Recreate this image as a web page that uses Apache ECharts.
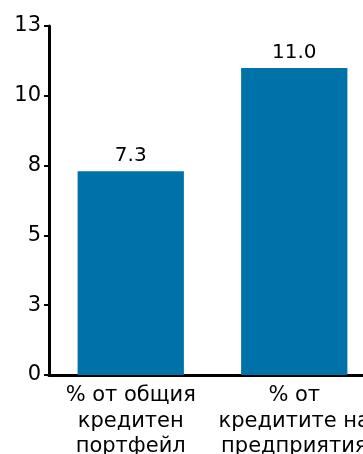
<!DOCTYPE html>
<html><head><meta charset="utf-8">
<script src="https://cdn.jsdelivr.net/npm/echarts@6/dist/echarts.min.js"></script>
<style>html,body{margin:0;padding:0;background:#fff}#c{width:363px;height:454px}</style>
</head><body><div id="c"></div>
<script>
var categories = ['% от общия\nкредитен\nпортфейл', '% от\nкредитите на\nпредприятия'];
var values = [7.3, 11.0];
var chart = echarts.init(document.getElementById('c'), null, {renderer: 'canvas'});
chart.setOption({
  animation: false,
  grid: {left: 49, top: 26, right: -13, bottom: 79, containLabel: false, outerBoundsMode: 'none'},
  xAxis: {
    type: 'category', data: categories,
    axisLine: {lineStyle: {color: '#000', width: 3}},
    axisTick: {show: false},
    axisLabel: {color: '#000', fontSize: 21, fontFamily: 'DejaVu Sans', lineHeight: 25.5, margin: 8, interval: 0}
  },
  yAxis: {
    type: 'value', min: 0, max: 12.5, interval: 2.5,
    splitLine: {show: false},
    axisLine: {show: true, lineStyle: {color: '#000', width: 3}},
    axisTick: {show: true, length: 5, lineStyle: {color: '#000', width: 2}},
    axisLabel: {color: '#000', fontSize: 21, fontFamily: 'DejaVu Sans', margin: 8, padding: [6, 0, 0, 0],
      formatter: function (v) { return String(Math.round(v)); }}
  },
  series: [{
    type: 'bar', data: values, barWidth: '65%',
    itemStyle: {color: '#0072AA'},
    label: {show: true, position: 'top', distance: 5, color: '#000', fontSize: 20, fontFamily: 'DejaVu Sans',
      formatter: function (p) { return p.value.toFixed(1); }}
  }]
});
</script></body></html>
